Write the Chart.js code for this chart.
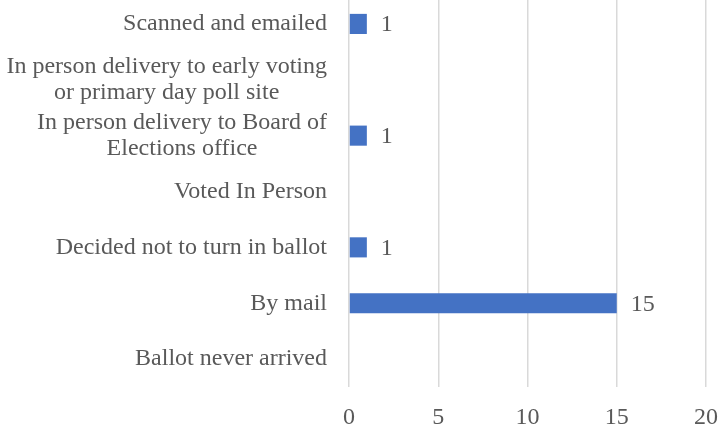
<!DOCTYPE html>
<html>
<head>
<meta charset="utf-8">
<script src="https://cdn.jsdelivr.net/npm/chart.js@4.4.0/dist/chart.umd.min.js"></script>
<style>
    html, body { margin: 0; padding: 0; background: #fff; overflow: hidden; }
    #wrap { width: 734px; height: 432px; position: absolute; left: 0; top: -4px; }
</style>
</head>
<body>
<div id="wrap"><canvas id="chartVote"></canvas></div>
<script>
// Data (top to bottom)
const categories = [
    'Scanned and emailed',
    ['In person delivery to early voting', 'or primary day poll site'],
    ['In person delivery to Board of', 'Elections office'],
    'Voted In Person',
    'Decided not to turn in ballot',
    'By mail',
    'Ballot never arrived'
];
const counts = [1, 0, 1, 0, 1, 15, 0];
const xTicks = [0, 5, 10, 15, 20];

const fontFamily = "'Liberation Serif', 'Times New Roman', serif";
const textColor = '#595959';

// Draw y labels ourselves so two-line labels are centred on each other
const yLabelPlugin = {
    id: 'yLabels',
    afterDraw(chart) {
        const ctx = chart.ctx;
        const yScale = chart.scales.y;
        const rightEdge = chart.chartArea.left - 22;
        const lineH = 26.5;
        ctx.save();
        ctx.font = '24px ' + fontFamily;
        ctx.fillStyle = textColor;
        ctx.textAlign = 'center';
        ctx.textBaseline = 'middle';
        categories.forEach((label, i) => {
            const lines = Array.isArray(label) ? label : [label];
            const maxW = Math.max(...lines.map(l => ctx.measureText(l).width));
            const cx = rightEdge - maxW / 2;
            const cy = yScale.getPixelForTick(i);
            lines.forEach((line, j) => {
                ctx.fillText(line, cx, cy + (j - (lines.length - 1) / 2) * lineH);
            });
        });
        ctx.restore();
    }
};

// Value labels right of each non-zero bar
const valueLabelPlugin = {
    id: 'valueLabels',
    afterDatasetsDraw(chart) {
        const ctx = chart.ctx;
        const meta = chart.getDatasetMeta(0);
        ctx.save();
        ctx.font = '24px ' + fontFamily;
        ctx.fillStyle = textColor;
        ctx.textAlign = 'left';
        ctx.textBaseline = 'middle';
        meta.data.forEach((bar, i) => {
            if (counts[i] > 0) {
                ctx.fillText(String(counts[i]), bar.x + 14, bar.y + 1);
            }
        });
        ctx.restore();
    }
};

const ctxVote = document.getElementById('chartVote').getContext('2d');
const chartVote = new Chart(ctxVote, {
    type: 'bar',
    data: {
        labels: categories,
        datasets: [{
            data: counts,
            backgroundColor: '#4472C4',
            borderWidth: 0,
            categoryPercentage: 1,
            barPercentage: 0.36
        }]
    },
    options: {
        indexAxis: 'y',
        responsive: true,
        maintainAspectRatio: false,
        animation: false,
        layout: {
            padding: { top: 0, right: 2, bottom: 0, left: 0 }
        },
        plugins: {
            legend: { display: false },
            tooltip: { enabled: false }
        },
        scales: {
            x: {
                min: 0,
                max: 20,
                afterBuildTicks(scale) {
                    scale.ticks = xTicks.map(v => ({ value: v }));
                },
                afterFit(scale) {
                    scale.height = 41;
                },
                border: { display: false },
                grid: {
                    color: '#d9d9d9',
                    lineWidth: 1.5,
                    drawTicks: false
                },
                ticks: {
                    padding: 16,
                    color: textColor,
                    font: { family: fontFamily, size: 24 }
                }
            },
            y: {
                afterFit(scale) {
                    scale.width = 349;
                },
                border: { display: false },
                grid: { display: false },
                ticks: { display: false }
            }
        }
    },
    plugins: [yLabelPlugin, valueLabelPlugin]
});
</script>
</body>
</html>
